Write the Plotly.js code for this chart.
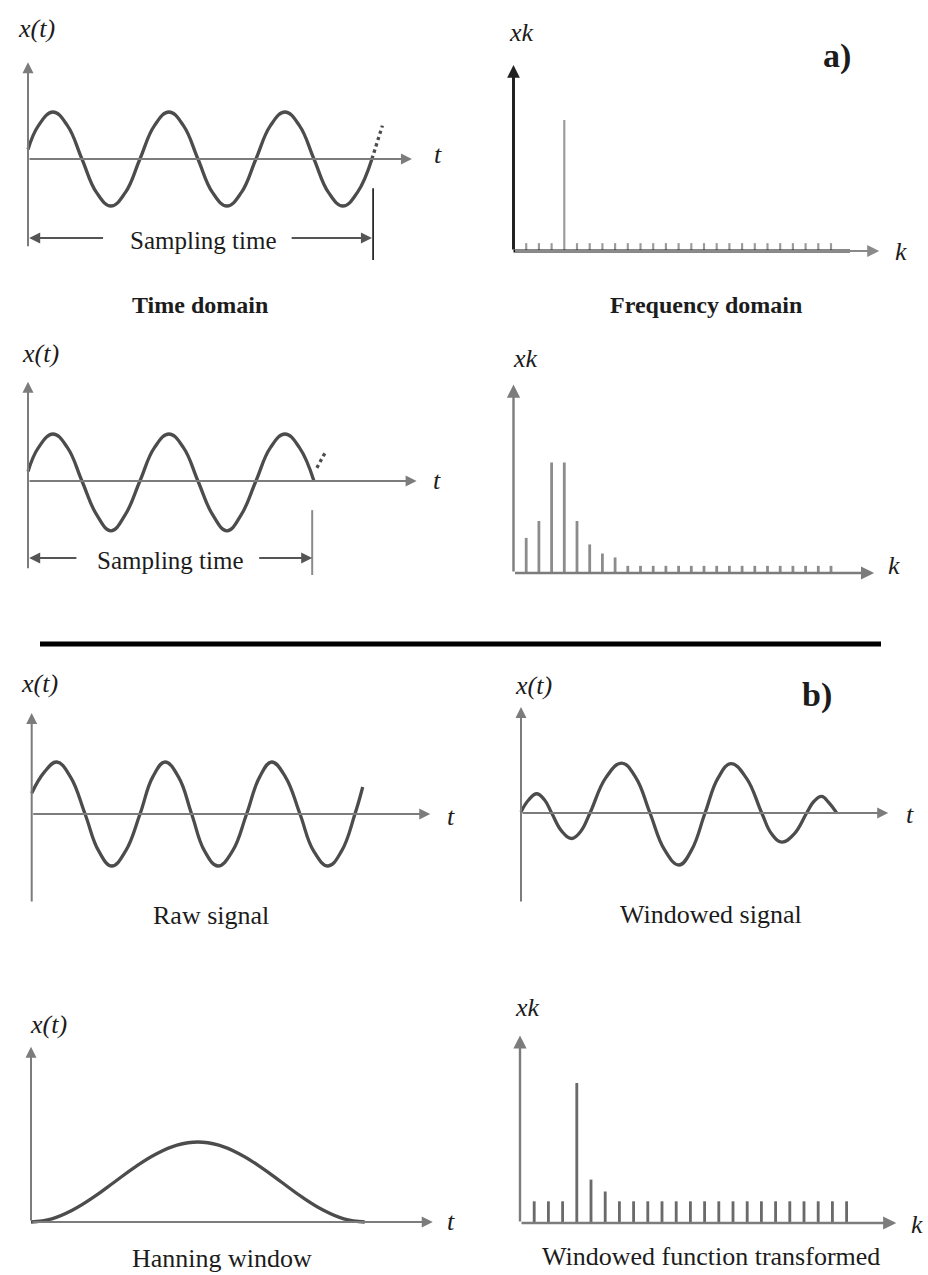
<!DOCTYPE html>
<html>
<head>
<meta charset="utf-8">
<script src="https://cdn.plot.ly/plotly-3.0.1.min.js"></script>
<style>
  html, body { margin: 0; padding: 0; background: #ffffff; }
  #fig { width: 928px; height: 1275px; }
</style>
</head>
<body>
<div id="fig"></div>
<script>
const W = 928, H = 1275;

// ---- (a) sine sampled over a whole number of cycles (t in periods) ----
const sineT = [0, 0.09, 0.215, 0.34, 0.465, 0.59, 0.715, 0.84, 0.965, 1.09, 1.215, 1.34, 1.465,
               1.59, 1.715, 1.84, 1.965, 2.09, 2.215, 2.34, 2.465, 2.59, 2.715, 2.84, 2.965];
const sineX = [0.2, 0.71, 1, 0.71, 0, -0.71, -1, -0.71, 0, 0.71, 1, 0.71, 0,
               -0.71, -1, -0.71, 0, 0.71, 1, 0.71, 0, -0.71, -1, -0.71, 0];
const sineNextT = [2.965, 3.055];
const sineNextX = [0, 0.71];

// ---- (a) sine cut off after two and a half cycles ----
const cutT = [0, 0.09, 0.215, 0.34, 0.465, 0.59, 0.715, 0.84, 0.965, 1.09, 1.215, 1.34, 1.465,
              1.59, 1.715, 1.84, 1.965, 2.09, 2.215, 2.34, 2.465];
const cutX = [0.2, 0.71, 1, 0.71, 0, -0.71, -1.06, -0.71, 0, 0.71, 1, 0.71, 0,
              -0.71, -1.06, -0.71, 0, 0.71, 1, 0.71, 0];
const cutNextT = [2.49, 2.57];
const cutNextX = [0.28, 0.64];

// ---- spectra (relative magnitude per line k) ----
const kFull = [1, 2, 3, 4, 5, 6, 7, 8, 9, 10, 11, 12, 13, 14, 15, 16, 17, 18, 19, 20, 21, 22, 23, 24, 25];
const magFull = [0.06, 0.06, 0.06, 1, 0.06, 0.06, 0.06, 0.06, 0.06, 0.06, 0.06, 0.06, 0.06,
                 0.06, 0.06, 0.06, 0.06, 0.06, 0.06, 0.06, 0.06, 0.06, 0.06, 0.06, 0.06];
const magLeak = [0.27, 0.40, 0.85, 0.85, 0.40, 0.22, 0.15, 0.12, 0.055, 0.055, 0.055, 0.055, 0.055,
                 0.055, 0.055, 0.055, 0.055, 0.055, 0.055, 0.055, 0.055, 0.055, 0.055, 0.055, 0.055];
const kWin = [1, 2, 3, 4, 5, 6, 7, 8, 9, 10, 11, 12, 13, 14, 15, 16, 17, 18, 19, 20, 21, 22, 23];
const magWin = [0.155, 0.155, 0.155, 1, 0.31, 0.225, 0.155, 0.155, 0.155, 0.155, 0.155, 0.155,
                0.155, 0.155, 0.155, 0.155, 0.155, 0.155, 0.155, 0.155, 0.155, 0.155, 0.155];

// ---- (b) raw signal, windowed signal, Hanning window ----
const rawT = [0, 0.115, 0.231, 0.36, 0.494, 0.62, 0.741, 0.87, 1.003, 1.12, 1.234, 1.36, 1.481,
              1.60, 1.725, 1.86, 1.99, 2.11, 2.222, 2.35, 2.484, 2.61, 2.744, 2.87, 2.993, 3.065];
const rawX = [0.4, 0.8, 1, 0.71, 0, -0.71, -1, -0.71, 0, 0.71, 1, 0.71, 0,
              -0.71, -1, -0.71, 0, 0.71, 1, 0.71, 0, -0.71, -1, -0.71, 0, 0.52];
const winT = [0, 0.07, 0.145, 0.215, 0.284, 0.377, 0.469, 0.554, 0.639, 0.786, 0.932, 1.063, 1.194,
              1.33, 1.463, 1.58, 1.704, 1.824, 1.944, 2.087, 2.229, 2.32, 2.414, 2.53, 2.645,
              2.715, 2.784, 2.85, 2.923];
const winX = [0.02, 0.25, 0.37, 0.26, 0, -0.35, -0.49, -0.35, 0, 0.68, 0.96, 0.68, 0,
              -0.71, -1.0, -0.71, 0, 0.67, 0.95, 0.67, 0, -0.4, -0.56, -0.4, 0,
              0.23, 0.32, 0.2, 0];
const hannT = [0, 0.193, 0.386, 0.579, 0.773, 0.966, 1.159, 1.352, 1.545, 1.738, 1.931,
               2.124, 2.318, 2.511, 2.704, 2.897, 3.09];
const hannX = [0, 0.04, 0.15, 0.31, 0.5, 0.69, 0.85, 0.96, 1, 0.96, 0.85, 0.69, 0.5, 0.31, 0.15, 0.04, 0];

// ---- styling ----
const FONT = "'Liberation Serif', 'Times New Roman', serif";
const INK = '#1c1c1c';
const WAVE = '#4c4c4c';
const AXIS = '#7c7c7c';

const layout = {
  width: W, height: H,
  margin: { l: 0, r: 0, t: 0, b: 0 },
  paper_bgcolor: '#ffffff', plot_bgcolor: 'rgba(0,0,0,0)',
  showlegend: false,
  annotations: [], shapes: []
};
const data = [];

// each diagram gets its own hidden pair of axes; box and origin are in page pixels
function panel(id, box, origin, scale) {
  const [l, t, r, b] = box;
  layout['xaxis' + id] = {
    domain: [l / W, r / W], anchor: 'y' + id, visible: false, fixedrange: true,
    range: [(l - origin[0]) / scale[0], (r - origin[0]) / scale[0]]
  };
  layout['yaxis' + id] = {
    domain: [1 - b / H, 1 - t / H], anchor: 'x' + id, visible: false, fixedrange: true,
    range: [(origin[1] - b) / scale[1], (origin[1] - t) / scale[1]]
  };
}
function arrow(id, x0, y0, x1, y1, color, width, size) {
  layout.annotations.push({
    xref: 'x' + id, yref: 'y' + id, axref: 'x' + id, ayref: 'y' + id,
    x: x1, y: y1, ax: x0, ay: y0, text: '', showarrow: true,
    arrowhead: 2, arrowsize: size || 1.1, arrowwidth: width || 2, arrowcolor: color || AXIS
  });
}
function seg(id, x0, y0, x1, y1, color, width) {
  layout.shapes.push({
    type: 'line', xref: 'x' + id, yref: 'y' + id, x0: x0, y0: y0, x1: x1, y1: y1,
    line: { color: color, width: width }
  });
}
function label(text, px, py, size) {
  layout.annotations.push({
    xref: 'paper', yref: 'paper', x: px / W, y: 1 - py / H, xanchor: 'center', yanchor: 'middle',
    text: text, showarrow: false, font: { family: FONT, size: size, color: INK }
  });
}
function wave(id, t, x, dash) {
  data.push({
    type: 'scatter', mode: 'lines', x: t, y: x, xaxis: 'x' + id, yaxis: 'y' + id,
    line: { color: WAVE, width: 3.3, shape: dash ? 'linear' : 'spline', smoothing: 1.2, dash: dash || 'solid' },
    hoverinfo: 'skip'
  });
}
function lines(id, k, mag, color, width) {
  data.push({
    type: 'bar', x: k, y: mag, xaxis: 'x' + id, yaxis: 'y' + id, width: width,
    marker: { color: color, line: { width: 0 } }, hoverinfo: 'skip'
  });
}

// ===== (a) top row: whole cycles =====
panel('', [18, 52, 425, 268], [28, 159], [116, 47]);
arrow('', 0, 0, 3.31, 0);
arrow('', 0, -1.89, 0, 2.06);
wave('', sineT, sineX);
wave('', sineNextT, sineNextX, 'dot');
arrow('', 0.66, -1.68, 0.01, -1.68, '#555', 2);
arrow('', 2.26, -1.68, 2.965, -1.68, '#555', 2);
seg('', 2.975, -0.62, 2.975, -2.15, '#111', 1.6);

panel('2', [500, 52, 895, 268], [513.5, 251], [12.7, 131]);
lines('2', kFull, magFull, '#9a9a9a', 0.17);
arrow('2', 0, 0, 28.8, 0, '#8a8a8a', 2.2);
seg('2', 0, 0, 26.5, 0, '#111', 3);
arrow('2', 0, 0, 0, 1.42, '#222', 3, 0.85);

// ===== (a) second row: truncated record =====
panel('3', [18, 372, 430, 582], [28, 481], [116, 47]);
arrow('3', 0, 0, 3.35, 0);
arrow('3', 0, -1.89, 0, 2.11);
wave('3', cutT, cutX);
wave('3', cutNextT, cutNextX, 'dot');
arrow('3', 0.43, -1.64, 0.01, -1.64, '#555', 2);
arrow('3', 1.98, -1.64, 2.45, -1.64, '#555', 2);
seg('3', 2.45, -0.62, 2.45, -2.0, '#8a8a8a', 2);

panel('4', [500, 375, 890, 582], [513.5, 573], [12.7, 130]);
lines('4', kFull, magLeak, '#8c8c8c', 0.22);
arrow('4', 0, 0, 28.4, 0, AXIS, 2.4);
arrow('4', 0, 0, 0, 1.45, AXIS, 2.4);

// separator between (a) and (b)
layout.shapes.push({
  type: 'line', xref: 'paper', yref: 'paper', x0: 40 / W, x1: 881 / W, y0: 1 - 644 / H, y1: 1 - 644 / H,
  line: { color: '#000', width: 5 }
});

// ===== (b) raw and windowed signals =====
panel('5', [20, 700, 442, 912], [31.7, 814], [108, 52]);
arrow('5', 0, 0, 3.69, 0);
arrow('5', 0, -1.71, 0, 1.94);
wave('5', rawT, rawX);

panel('6', [510, 698, 900, 912], [521, 813], [108, 52]);
arrow('6', 0, 0, 3.40, 0);
arrow('6', 0, -1.73, 0, 2.04);
wave('6', winT, winX);

// ===== (b) Hanning window and its transform =====
panel('7', [20, 1038, 445, 1235], [31, 1222], [108, 80]);
arrow('7', 0, 0, 3.72, 0);
arrow('7', 0, 0, 0, 2.19);
wave('7', hannT, hannX);

panel('8', [508, 1026, 905, 1235], [520, 1223], [14.2, 140]);
lines('8', kWin, magWin, '#6a6a6a', 0.2);
arrow('8', 0, 0, 26.5, 0, AXIS, 2.4);
arrow('8', 0, 0, 0, 1.34, AXIS, 2.4);

// ===== text =====
const IT = 26, TX = 25, TB = 26, BD = 24;
label('<i>x(t)</i>', 36, 28, IT);
label('<i>t</i>', 438, 154, IT);
label('Sampling time', 203, 240, TX);
label('<b>Time domain</b>', 200, 305, BD);
label('<i>xk</i>', 521, 33, IT);
label('<i>k</i>', 901, 252, IT);
label('<b>a)</b>', 837, 56, 34);
label('<b>Frequency domain</b>', 706, 305, BD);

label('<i>x(t)</i>', 40, 353, IT);
label('<i>t</i>', 437, 480, IT);
label('Sampling time', 170, 560, TX);
label('<i>xk</i>', 525, 358, IT);
label('<i>k</i>', 894, 566, IT);

label('<i>x(t)</i>', 39, 683, IT);
label('<i>t</i>', 451, 816, IT);
label('Raw signal', 211, 915, TB);
label('<i>x(t)</i>', 533, 685, IT);
label('<b>b)</b>', 817, 695, 34);
label('<i>t</i>', 910, 815, IT);
label('Windowed signal', 711, 914, TB);

label('<i>x(t)</i>', 48, 1024, IT);
label('<i>t</i>', 451, 1221, IT);
label('Hanning window', 222, 1258, TB);
label('<i>xk</i>', 527, 1007, IT);
label('<i>k</i>', 917, 1224, IT);
label('Windowed function transformed', 711, 1256, TB);

Plotly.newPlot('fig', data, layout, { displayModeBar: false, staticPlot: true });
</script>
</body>
</html>
